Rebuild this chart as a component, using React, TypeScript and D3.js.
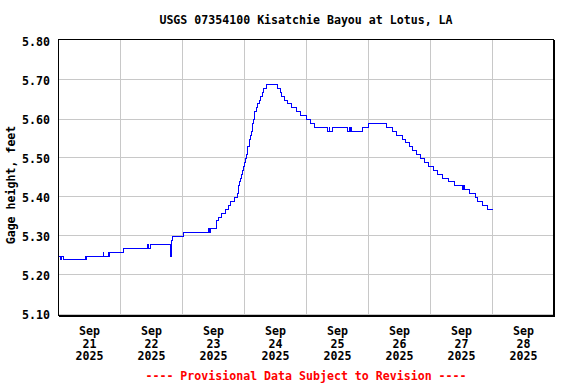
import React from "react";
import * as d3 from "d3";

const TITLE = "USGS 07354100 Kisatchie Bayou at Lotus, LA";
const Y_LABEL = "Gage height, feet";
const FOOTER = "---- Provisional Data Subject to Revision ----";

// hours since 2025-09-21 00:00 (local) and gage height at each change
const hours = [
  0, 0.75, 1.0, 2.0, 10.5, 10.75, 11.0, 17.25, 17.5, 19.25, 19.5, 19.75, 25.0,
  34.5, 34.75, 35.75, 43.25, 43.5, 43.75, 44.0, 48.25, 58.0, 58.5, 58.75, 61.0,
  61.25, 62.0, 63.0, 64.5, 65.75, 66.75, 68.25, 69.25, 69.5, 69.75, 70.25, 70.5,
  70.75, 71.25, 71.5, 72.0, 72.5, 72.75, 73.0, 73.25, 73.75, 74.0, 74.5, 74.75,
  75.0, 75.25, 75.5, 75.75, 76.0, 76.5, 77.0, 77.75, 78.25, 79.0, 79.5, 80.5,
  84.75, 85.75, 86.5, 87.5, 88.75, 90.25, 92.0, 93.5, 96.0, 97.5, 99.0, 104.25,
  104.75, 105.0, 106.0, 111.75, 112.5, 112.75, 113.0, 113.25, 117.75, 120.0,
  127.0, 129.25, 130.75, 133.0, 134.25, 136.0, 137.0, 138.5, 140.0, 141.5,
  143.25, 145.25, 146.75, 148.75, 151.0, 153.25, 156.5, 156.75, 157.25, 159.0,
  161.25, 162.0, 164.0, 166.0, 168.0,
];
const heights = [
  5.25, 5.24, 5.25, 5.24, 5.25, 5.24, 5.25, 5.26, 5.25, 5.26, 5.25, 5.26, 5.27,
  5.28, 5.27, 5.28, 5.27, 5.25, 5.29, 5.3, 5.31, 5.32, 5.31, 5.32, 5.33,
  5.34, 5.35, 5.36, 5.37, 5.38, 5.39, 5.4, 5.41, 5.42, 5.43, 5.44, 5.45,
  5.46, 5.47, 5.48, 5.49, 5.5, 5.51, 5.52, 5.53, 5.54, 5.55, 5.56, 5.57,
  5.58, 5.59, 5.6, 5.61, 5.62, 5.63, 5.64, 5.65, 5.66, 5.67, 5.68, 5.69,
  5.68, 5.67, 5.66, 5.65, 5.64, 5.63, 5.62, 5.61, 5.6, 5.59, 5.58, 5.57,
  5.58, 5.57, 5.58, 5.57, 5.58, 5.57, 5.58, 5.57, 5.58, 5.59,
  5.58, 5.57, 5.56, 5.55, 5.54, 5.53, 5.52, 5.51, 5.5, 5.49,
  5.48, 5.47, 5.46, 5.45, 5.44, 5.43, 5.42, 5.43, 5.42, 5.41,
  5.4, 5.39, 5.38, 5.37, 5.37,
];

const yTicks = [5.1, 5.2, 5.3, 5.4, 5.5, 5.6, 5.7, 5.8];
const dayNumbers = [21, 22, 23, 24, 25, 26, 27, 28];
const monthLabel = "Sep";
const yearLabel = "2025";

const FONT = "'DejaVu Sans Mono', 'Liberation Mono', monospace";

export default function App() {
  const W = 576;
  const H = 384;
  const left = 58.5;
  const right = 554.5;
  const top = 39.5;
  const bottom = 315.5;

  const start = new Date(2025, 8, 21, 0, 0);
  const end = new Date(2025, 8, 29, 0, 0);
  const x = d3.scaleTime().domain([start, end]).range([left, right]);
  const y = d3.scaleLinear().domain([5.1, 5.8]).range([314.5, 41.5]);

  const toDate = (h: number) => new Date(2025, 8, 21, 0, Math.round(h * 60));
  const data = hours.map((h, i) => ({ t: toDate(h), v: heights[i] }));

  const line = d3
    .line<{ t: Date; v: number }>()
    .x((d) => x(d.t))
    .y((d) => y(d.v))
    .curve(d3.curveStepAfter);

  const midnights = dayNumbers.slice(1).map((d) => new Date(2025, 8, d, 0, 0));
  const noons = dayNumbers.map((d) => new Date(2025, 8, d, 12, 0));

  return (
    <svg
      width={W}
      height={H}
      style={{ position: "fixed", left: 0, top: 0, background: "#fff" }}
      fontFamily={FONT}
      fontWeight="bold"
      fontSize={11.6}
    >
      <rect x={0} y={0} width={W} height={H} fill="#fff" />
      {/* grid */}
      <g stroke="#c8c8c8" strokeWidth={1} shapeRendering="crispEdges">
        {midnights.map((d, i) => (
          <line key={"v" + i} x1={Math.round(x(d)) - 0.5} x2={Math.round(x(d)) - 0.5} y1={top} y2={bottom} />
        ))}
        {yTicks.slice(0, -1).map((v, i) => (
          <line key={"h" + i} x1={left} x2={right} y1={Math.round(y(v)) - 0.5} y2={Math.round(y(v)) - 0.5} />
        ))}
      </g>
      {/* data */}
      <path
        d={line(data) || ""}
        fill="none"
        stroke="#0000ff"
        strokeWidth={1}
        shapeRendering="crispEdges"
      />
      {/* frame */}
      <g shapeRendering="crispEdges" stroke="#000" fill="none">
        <rect x={left} y={top} width={right - left - 1} height={bottom - top} strokeWidth={1} />
        <line x1={left} x2={right} y1={bottom + 1} y2={bottom + 1} />
        <line x1={right} x2={right} y1={top} y2={bottom + 1} />
      </g>
      {/* y tick labels */}
      {yTicks.map((v, i) => (
        <text key={"yt" + i} x={50} y={y(v) + 4.3} textAnchor="end" fill="#000">
          {v.toFixed(2)}
        </text>
      ))}
      {/* x tick labels */}
      {noons.map((d, i) => (
        <g key={"xt" + i} fill="#000" textAnchor="middle">
          <text x={x(d)} y={334.5}>{monthLabel}</text>
          <text x={x(d)} y={347.5}>{dayNumbers[i]}</text>
          <text x={x(d)} y={360}>{yearLabel}</text>
        </g>
      ))}
      {/* title */}
      <text x={306} y={24} textAnchor="middle" fill="#000">
        {TITLE}
      </text>
      {/* y axis label */}
      <text transform="translate(15,185) rotate(-90)" textAnchor="middle" fill="#000">
        {Y_LABEL}
      </text>
      {/* footer */}
      <text x={306} y={379.5} textAnchor="middle" fill="#ff0000">
        {FOOTER}
      </text>
    </svg>
  );
}
